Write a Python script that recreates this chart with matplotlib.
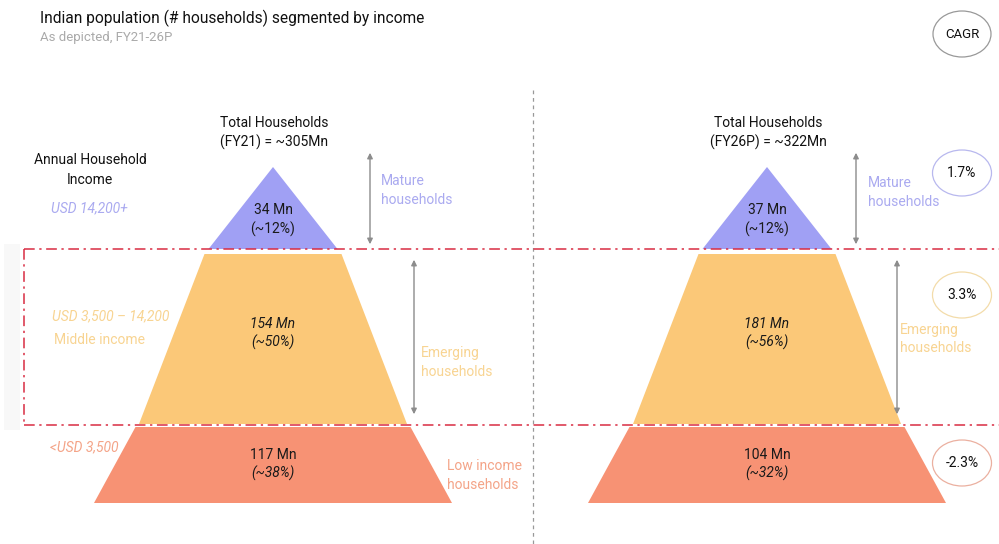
import matplotlib.pyplot as plt
from matplotlib.patches import Ellipse, Rectangle

plt.rcParams['font.family'] = ['Roboto', 'DejaVu Sans']

# data
years = ['FY21', 'FY26P']
totals = [305, 322]
segments = ['Mature\nhouseholds', 'Emerging\nhouseholds', 'Low income\nhouseholds']
hh_mn = {'FY21': [34, 154, 117], 'FY26P': [37, 181, 104]}
share_pct = {'FY21': [12, 50, 38], 'FY26P': [12, 56, 32]}
cagr = [1.7, 3.3, -2.3]
income_bands = ['USD 14,200+', 'USD 3,500 \u2013 14,200', '<USD 3,500']

colors = ['#a0a0f4', '#fbc878', '#f79274']
label_colors = ['#aaaaf0', '#f8d492', '#f4a488']
ring_colors = ['#b8b8ee', '#f3dcaa', '#ebb0a0']

# layout (pixels)
centers = [273, 767]
tiers = [(167, 249, 0, 64.5), (254, 424, 68.5, 134), (427, 503, 137.5, 179)]
text_y = [(210, 229), (324, 342), (455, 473)]
italic = [(False, False), (True, True), (False, True)]

fig = plt.figure(figsize=(9.99, 5.44), dpi=100)
ax = fig.add_axes([0, 0, 1, 1])
ax.set_xlim(0, 999)
ax.set_ylim(544, 0)
ax.axis('off')

fig.text(40 / 999, 1 - 18 / 544, 'Indian population (# households) segmented by income',
         fontsize=11.2, color='#111111', va='center')
fig.text(40 / 999, 1 - 38 / 544, 'As depicted, FY21-26P', fontsize=9.5, color='#aaaaaa', va='center')

# CAGR header
ax.add_patch(Ellipse((962, 34), 58, 46, fill=False, edgecolor='#999999', lw=0.9))
ax.text(962, 34, 'CAGR', ha='center', va='center', fontsize=9.5, color='#111111')

# faint shadow and red highlight band
ax.add_patch(Rectangle((4, 244), 16, 186, color='#f8f8f8', lw=0, zorder=0))
red = '#d92c42'
dd = (0, (7, 3, 1.5, 3))
ax.plot([24, 999], [249, 249], color=red, lw=1.1, ls=dd, zorder=5)
ax.plot([24, 999], [425, 425], color=red, lw=1.1, ls=dd, zorder=5)
ax.plot([24, 24], [249, 425], color=red, lw=1.1, ls=dd, zorder=5)

# divider
ax.plot([533, 533], [90, 544], color='#999999', lw=0.9, ls=(0, (3, 3)))

for k, yr in enumerate(years):
    cx = centers[k]
    for i, (y0, y1, h0, h1) in enumerate(tiers):
        ax.fill([cx - h0, cx + h0, cx + h1, cx - h1], [y0, y0, y1, y1],
                color=colors[i], lw=0, zorder=2)
        l1 = f'{hh_mn[yr][i]} Mn'
        l2 = f'(~{share_pct[yr][i]}%)'
        for txt, ty, it in zip([l1, l2], text_y[i], italic[i]):
            ax.text(cx, ty, txt, ha='center', va='center', fontsize=10,
                    style='italic' if it else 'normal', color='#1a1a1a', zorder=6)
    ax.text(cx + 1, 133, f'Total Households\n({yr}) = ~{totals[k]}Mn', ha='center',
            va='center', fontsize=10, color='#111111', linespacing=1.35)

# arrows
arrow_kw = dict(arrowstyle='<|-|>', color='#8c8c8c', lw=1.0, mutation_scale=8)
for x, y0, y1 in [(370, 150, 247), (414, 257, 417), (856, 150, 247), (897, 257, 417)]:
    ax.annotate('', xy=(x, y0), xytext=(x, y1), arrowprops=arrow_kw)

# segment labels
seg_pos = [(381, 190.5), (421, 362.5), (447, 475.5), (868, 192.5), (900, 339)]
seg_idx = [0, 1, 2, 0, 1]
for (x, y), i in zip(seg_pos, seg_idx):
    ax.text(x, y, segments[i], ha='left', va='center', fontsize=10,
            color=label_colors[i], linespacing=1.42)

# income column
ax.text(90, 170, 'Annual Household\nIncome', ha='center', va='center', fontsize=10,
        color='#111111', linespacing=1.5)
ax.text(89, 208, income_bands[0], ha='center', va='center', fontsize=10,
        style='italic', color=label_colors[0])
ax.text(52, 316, income_bands[1], ha='left', va='center', fontsize=10,
        style='italic', color=label_colors[1])
ax.text(54, 340, 'Middle income', ha='left', va='center', fontsize=10, color=label_colors[1])
ax.text(50, 447, income_bands[2], ha='left', va='center', fontsize=10,
        style='italic', color=label_colors[2])

# CAGR rings
for i, y in enumerate([173, 295, 463]):
    ax.add_patch(Ellipse((962, y), 59, 46, fill=False, edgecolor=ring_colors[i], lw=0.9))
    ax.text(962, y, f'{cagr[i]:.1f}%', ha='center', va='center', fontsize=10, color='#111111')

fig.savefig('out.png', dpi=100)
